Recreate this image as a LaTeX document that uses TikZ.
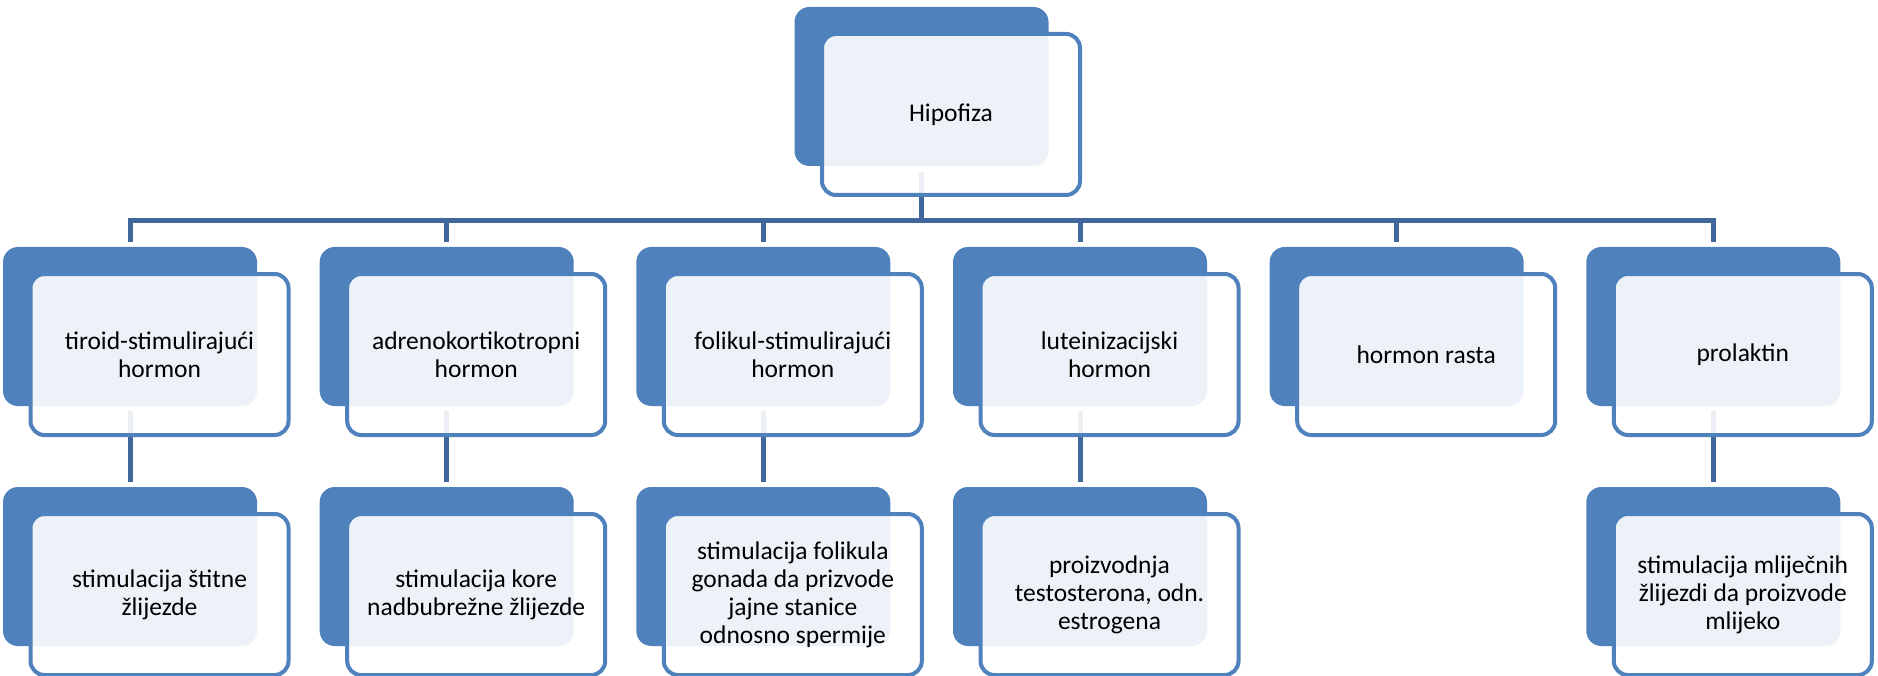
\documentclass[tikz,border=0pt]{standalone}
\usepackage{fontspec}
\setmainfont{Carlito}
\usepackage{tikz}
\definecolor{hblue}{HTML}{4F81BD}
\definecolor{hlink}{HTML}{41689C}
\tikzstyle{back}=[fill=hblue,rounded corners=15pt,minimum width=254pt,minimum height=159pt,inner sep=0pt]
\tikzstyle{front}=[draw=hblue,line width=4pt,fill=white,fill opacity=0.9,text opacity=1,
  rounded corners=14pt,minimum width=258pt,minimum height=161pt,inner sep=0pt,align=center,
  font=\fontsize{25.5}{28}\selectfont]
\tikzstyle{link}=[draw=hlink,line width=5pt]

\begin{document}
\begin{tikzpicture}[x=1pt,y=-1pt]
  \fill[white] (0,0) rectangle (1878,676);
  \useasboundingbox (0,0) rectangle (1878,676);
  % back boxes
  \node[back] (bhip) at (921.5,86.5) {};
  \node[back] (btsh) at (130,326.5) {};
  \node[back] (bacth) at (446.7,326.5) {};
  \node[back] (bfsh) at (763.3,326.5) {};
  \node[back] (blh) at (1080,326.5) {};
  \node[back] (bgh) at (1396.7,326.5) {};
  \node[back] (bprl) at (1713.3,326.5) {};
  \node[back] (btshE) at (130,566.5) {};
  \node[back] (bacthE) at (446.7,566.5) {};
  \node[back] (bfshE) at (763.3,566.5) {};
  \node[back] (blhE) at (1080,566.5) {};
  \node[back] (bprlE) at (1713.3,566.5) {};
  % connectors
  \draw[link] ([yshift=-6pt]bhip.south) -- ++(0,48.5) coordinate (bus);
  \foreach \n in {btsh,bacth,bfsh,blh,bgh,bprl}
    \draw[link] (bus) -| ([yshift=5pt]\n.north);
  \draw[link] ([yshift=-5pt]btsh.south) -- ([yshift=5pt]btshE.north);
  \draw[link] ([yshift=-5pt]bacth.south) -- ([yshift=5pt]bacthE.north);
  \draw[link] ([yshift=-5pt]bfsh.south) -- ([yshift=5pt]bfshE.north);
  \draw[link] ([yshift=-5pt]blh.south) -- ([yshift=5pt]blhE.north);
  \draw[link] ([yshift=-5pt]bprl.south) -- ([yshift=5pt]bprlE.north);
  % front boxes
  \node[front] (hip) at ([shift={(29.5,28)}]bhip) {Hipofiza};
  \node[front] (tsh) at ([shift={(29.5,28)}]btsh) {tiroid-stimulirajući\\hormon};
  \node[front] (acth) at ([shift={(29.5,28)}]bacth) {adrenokortikotropni\\hormon};
  \node[front] (fsh) at ([shift={(29.5,28)}]bfsh) {folikul-stimulirajući\\hormon};
  \node[front] (lh) at ([shift={(29.5,28)}]blh) {luteinizacijski\\hormon};
  \node[front] (gh) at ([shift={(29.5,28)}]bgh) {hormon rasta};
  \node[front] (prl) at ([shift={(29.5,28)}]bprl) {prolaktin};
  \node[front] (tshE) at ([shift={(29.5,28)}]btshE) {stimulacija štitne\\žlijezde};
  \node[front] (acthE) at ([shift={(29.5,28)}]bacthE) {stimulacija kore\\nadbubrežne žlijezde};
  \node[front] (fshE) at ([shift={(29.5,28)}]bfshE) {stimulacija folikula\\gonada da prizvode\\jajne stanice\\odnosno spermije};
  \node[front] (lhE) at ([shift={(29.5,28)}]blhE) {proizvodnja\\testosterona, odn.\\estrogena};
  \node[front] (prlE) at ([shift={(29.5,28)}]bprlE) {stimulacija mliječnih\\žlijezdi da proizvode\\mlijeko};
\end{tikzpicture}
\end{document}
